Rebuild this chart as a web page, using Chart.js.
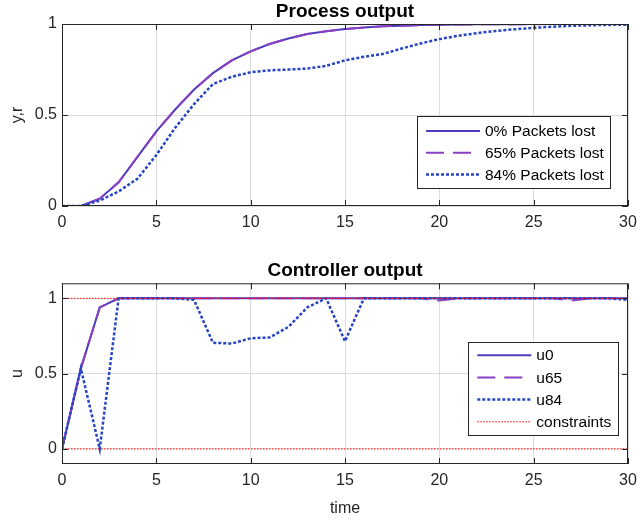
<!DOCTYPE html>
<html>
<head>
<meta charset="utf-8">
<script src="https://cdn.jsdelivr.net/npm/chart.js@4.4.1/dist/chart.umd.min.js"></script>
<style>
body { margin: 0; background: #fff; }
.wrap { position: absolute; left: 0; width: 637px; height: 260px; }
</style>
</head>
<body>
<div class="wrap" style="top:0"><canvas id="procChart" width="637" height="260"></canvas></div>
<div class="wrap" style="top:260px"><canvas id="ctrlChart" width="637" height="260"></canvas></div>
<script>
// time samples
const time = [0,1,2,3,4,5,6,7,8,9,10,11,12,13,14,15,16,17,18,19,20,21,22,23,24,25,26,27,28,29,30];

// process output
const y0 = [0,0,0.04,0.13,0.27,0.41,0.53,0.64,0.73,0.80,0.85,0.89,0.92,0.945,0.96,0.972,0.981,0.987,0.991,0.994,0.996,0.997,0.998,0.999,0.999,1,1,1,1,1,1];
const y65 = [0,0,0.04,0.13,0.27,0.41,0.53,0.64,0.73,0.80,0.85,0.89,0.92,0.945,0.96,0.972,0.981,0.987,0.991,0.994,0.996,0.997,0.998,0.998,0.999,0.999,1,1,1,1,1];
const y84 = [0,0,0.03,0.08,0.15,0.28,0.43,0.56,0.67,0.71,0.735,0.745,0.75,0.755,0.77,0.80,0.82,0.835,0.865,0.893,0.917,0.935,0.95,0.962,0.971,0.979,0.985,0.99,0.993,0.995,0.996];

// controller output
const u0 = [0,0.535,0.94,1,1,1,1,1,1,1,1,1,1,1,1,1,1,1,1,1,1,1,1,1,1,1,1,1,1,1,1];
const u65 = [0,0.535,0.94,1,1,1,1,1,1,1,1,1,1,1,1,1,1,1,1,1,0.985,1,1,1,1,1,1,0.985,1,1,1];
const u84 = [0,0.535,0,1,1,1,1,0.99,0.705,0.70,0.735,0.74,0.81,0.94,1,0.715,1,1,1,1,1,1,1,1,1,1,1,1,1,1,0.99];
const constraintTime = [0, 30];
const constraintLow = [0, 0];
const constraintHigh = [1, 1];

const xTicks = [0, 5, 10, 15, 20, 25, 30];
const yTicks = [0, 0.5, 1];

const FONT = "'Liberation Sans', Arial, sans-serif";
const AXIS = '#262626';

function pts(xs, ys) {
    return xs.map((x, i) => ({ x: x, y: ys[i] }));
}

// box round the axes with inward ticks, like matlab
const boxPlugin = {
    id: 'boxPlugin',
    afterDatasetsDraw(chart, args, opts) {
        const { ctx, chartArea: a, scales } = chart;
        ctx.save();
        ctx.strokeStyle = AXIS;
        ctx.lineWidth = 1;
        ctx.strokeRect(a.left + 0.5, a.top + 0.5, a.right - a.left - 1, a.bottom - a.top - 1);
        ctx.beginPath();
        xTicks.forEach(v => {
            const px = Math.round(scales.x.getPixelForValue(v)) + 0.5;
            ctx.moveTo(px, a.bottom); ctx.lineTo(px, a.bottom - 6);
            ctx.moveTo(px, a.top); ctx.lineTo(px, a.top + 6);
        });
        yTicks.forEach(v => {
            const py = Math.round(scales.y.getPixelForValue(v)) + 0.5;
            ctx.moveTo(a.left, py); ctx.lineTo(a.left + 6, py);
            ctx.moveTo(a.right, py); ctx.lineTo(a.right - 6, py);
        });
        ctx.stroke();
        // title centred over the axes
        ctx.fillStyle = '#000';
        ctx.font = 'bold 19px ' + FONT;
        ctx.textAlign = 'center';
        ctx.textBaseline = 'middle';
        ctx.fillText(opts.text, (a.left + a.right) / 2, opts.y);
        ctx.restore();
    }
};

// legend inside the plot area
const boxLegend = {
    id: 'boxLegend',
    afterDraw(chart, args, opts) {
        const { ctx, chartArea: a } = chart;
        const left = a.right - opts.right - opts.width;
        const top = a.bottom - opts.bottom - opts.height;
        ctx.save();
        ctx.fillStyle = '#fff';
        ctx.fillRect(left, top, opts.width, opts.height);
        ctx.strokeStyle = AXIS;
        ctx.lineWidth = 1;
        ctx.strokeRect(Math.round(left) + 0.5, Math.round(top) + 0.5, opts.width, opts.height);
        const items = chart.data.datasets.filter(ds => !ds.legendSkip);
        items.forEach((ds, i) => {
            const yy = top + opts.firstRow + i * opts.rowGap;
            ctx.beginPath();
            ctx.strokeStyle = ds.borderColor;
            ctx.lineWidth = ds.borderWidth;
            ctx.setLineDash(ds.borderDash || []);
            ctx.moveTo(left + 9, yy);
            ctx.lineTo(left + 63, yy);
            ctx.stroke();
            ctx.setLineDash([]);
            ctx.fillStyle = '#000';
            ctx.font = '15.5px ' + FONT;
            ctx.textBaseline = 'middle';
            ctx.textAlign = 'left';
            ctx.fillText(ds.label, left + 68, yy + 1);
        });
        ctx.restore();
    }
};

function makeChart(id, cfg) {
    const n = cfg.datasets.length;
    cfg.datasets.forEach((ds, i) => {
        ds.order = n - i; // later series drawn on top
        ds.pointRadius = 0;
        ds.tension = 0;
        ds.fill = false;
    });
    return new Chart(document.getElementById(id), {
        type: 'line',
        data: { datasets: cfg.datasets },
        plugins: [boxPlugin, boxLegend],
        options: {
            responsive: false,
            animation: false,
            layout: { padding: { left: 0, right: 9, top: cfg.top, bottom: 0 } },
            plugins: {
                legend: { display: false },
                tooltip: { enabled: false },
                title: { display: false },
                boxPlugin: { text: cfg.title, y: cfg.titleY },
                boxLegend: cfg.legend
            },
            scales: {
                x: {
                    type: 'linear',
                    min: 0,
                    max: 30,
                    afterBuildTicks: s => { s.ticks = xTicks.map(v => ({ value: v })); },
                    afterFit: s => {
                        s.height = cfg.xHeight;
                        s.paddingLeft = 0;
                        s.paddingRight = 0;
                    },
                    ticks: { color: AXIS, font: { family: FONT, size: 16 }, padding: 7, maxRotation: 0 },
                    grid: { color: '#dcdcdc', drawTicks: false },
                    border: { display: false },
                    title: {
                        display: !!cfg.xTitle,
                        text: cfg.xTitle || '',
                        color: AXIS,
                        font: { family: FONT, size: 16 },
                        padding: { top: 0, bottom: 2 }
                    }
                },
                y: {
                    min: cfg.yMin,
                    max: cfg.yMax,
                    afterBuildTicks: s => { s.ticks = yTicks.map(v => ({ value: v })); },
                    afterFit: s => {
                        s.width = 62;
                        s.paddingTop = 0;
                        s.paddingBottom = 0;
                    },
                    ticks: { color: AXIS, font: { family: FONT, size: 16 }, padding: 5, callback: v => String(v) },
                    grid: { color: '#dcdcdc', drawTicks: false },
                    border: { display: false },
                    title: {
                        display: true,
                        text: cfg.yTitle,
                        color: AXIS,
                        font: { family: FONT, size: 16 },
                        padding: { top: 8, bottom: 0 }
                    }
                }
            }
        }
    });
}

const C_SOLID = '#4f3bbd';
const C_DASH = '#8b3fc4';
const C_DOT = '#2644c4';

makeChart('procChart', {
    title: 'Process output',
    titleY: 12,
    top: 24,
    yTitle: 'y,r',
    yMin: 0,
    yMax: 1,
    xHeight: 54,
    legend: { right: 18, bottom: 18, width: 193, height: 72, firstRow: 15, rowGap: 21.7 },
    datasets: [
        { label: '0% Packets lost', data: pts(time, y0), borderColor: C_SOLID, borderWidth: 2 },
        { label: '65% Packets lost', data: pts(time, y65), borderColor: C_DASH, borderWidth: 2, borderDash: [18, 9] },
        { label: '84% Packets lost', data: pts(time, y84), borderColor: C_DOT, borderWidth: 2.5, borderDash: [3, 2] }
    ]
});

makeChart('ctrlChart', {
    title: 'Controller output',
    titleY: 11,
    top: 23.3,
    yTitle: 'u',
    xTitle: 'time',
    yMin: -0.1,
    yMax: 1.1,
    xHeight: 56,
    legend: { right: 9.7, bottom: 29.3, width: 150, height: 93, firstRow: 13.5, rowGap: 22.2 },
    datasets: [
        { label: 'u0', data: pts(time, u0), borderColor: C_SOLID, borderWidth: 2 },
        { label: 'u65', data: pts(time, u65), borderColor: C_DASH, borderWidth: 2, borderDash: [18, 9] },
        { label: 'u84', data: pts(time, u84), borderColor: C_DOT, borderWidth: 2.5, borderDash: [3, 2] },
        { label: 'constraints', data: pts(constraintTime, constraintHigh), borderColor: '#ff0000', borderWidth: 1, borderDash: [1.5, 1.5] },
        { label: 'constraints', data: pts(constraintTime, constraintLow), borderColor: '#ff0000', borderWidth: 1, borderDash: [1.5, 1.5], legendSkip: true }
    ]
});
</script>
</body>
</html>
